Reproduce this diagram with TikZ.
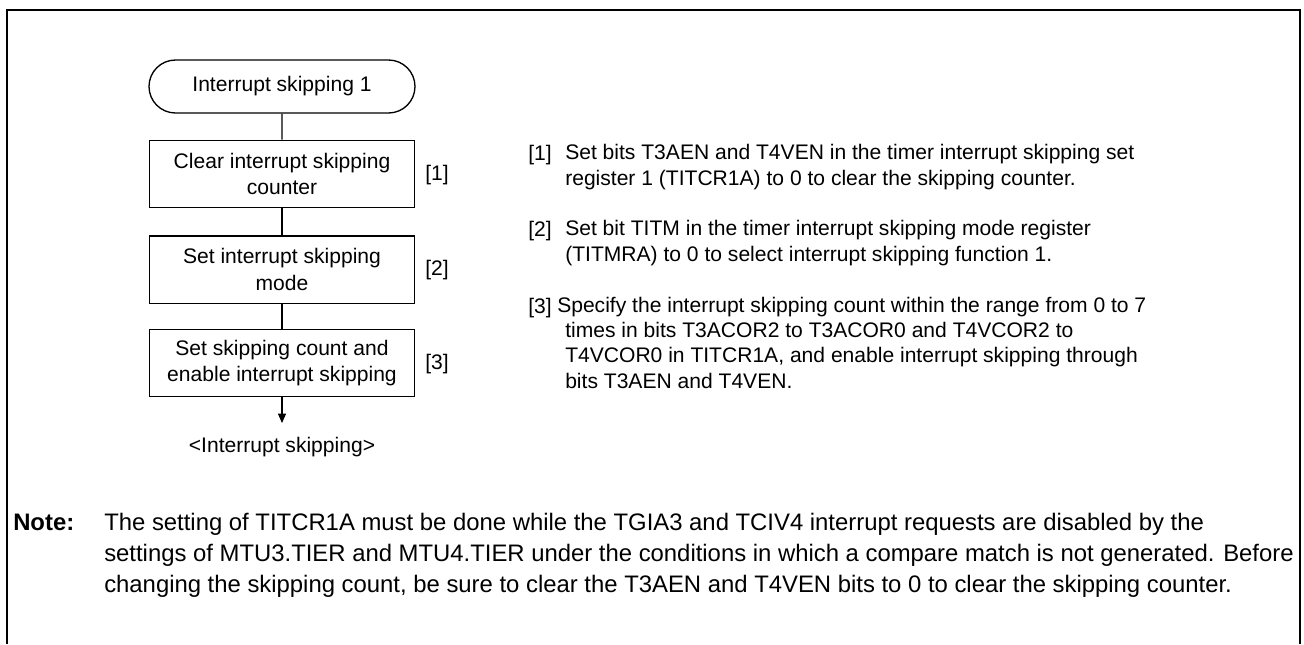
\documentclass[tikz,border=0pt]{standalone}
\usepackage{fontspec}
\setmainfont{Liberation Sans}
\usetikzlibrary{positioning, arrows.meta, shapes.misc}

\begin{document}
\begin{tikzpicture}[
  x=0.75pt, y=-0.75pt,
  every node/.style={font=\fontsize{15.8}{20}\selectfont, inner sep=0pt},
  term/.style={draw, line width=1pt, rounded rectangle, minimum width=199.5pt, minimum height=39.75pt},
  procbox/.style={draw, line width=1pt, minimum width=198.75pt, minimum height=50.5pt, align=center},
  steplabel/.style={anchor=base west},
  desc/.style={anchor=base west, align=left, font=\fontsize{15.8}{18.8}\selectfont},
  notetext/.style={anchor=base west, align=left, font=\fontsize{17.9}{23.25}\selectfont},
  flow/.style={line width=0.8pt},
  arrow/.style={-{Triangle[length=7pt,width=6pt]}, line width=0.8pt},
]
\useasboundingbox (0,0) rectangle (1304,644);

% Frame (open at the bottom)
\draw[line width=1.6pt] (7,644) -- (7,10) -- (1300,10) -- (1300,644);

% --- Flowchart ---
\node[term] (start) at (282, 86.5) {Interrupt skipping 1};
\node[procbox] (clr) at (282, 174) {Clear interrupt skipping\\counter};
\node[procbox] (mode) at (282, 269.5) {Set interrupt skipping\\mode};
\node[procbox] (cnt) at (282, 363) {Set skipping count and\\enable interrupt skipping};
\coordinate (end) at (282, 423);
\node (done) at (282, 447) {<Interrupt skipping>};

\node (n1) at (437, 175) {[1]};
\node (n2) at (437, 270) {[2]};
\node (n3) at (437, 364) {[3]};

\draw[flow] (start) -- (clr);
\draw[flow] (clr) -- (mode);
\draw[flow] (mode) -- (cnt);
\draw[arrow] (cnt) -- (end);

% --- Step descriptions (base = last line) ---
\node[steplabel] (d1n) at (528, 160) {[1]};
\node[desc] (d1) at (565, 185) {Set bits T3AEN and T4VEN in the timer interrupt skipping set\\register 1 (TITCR1A) to 0 to clear the skipping counter.};

\node[steplabel] (d2n) at (528, 236) {[2]};
\node[desc] (d2) at (565, 261) {Set bit TITM in the timer interrupt skipping mode register\\(TITMRA) to 0 to select interrupt skipping function 1.};

\node[steplabel] (d3n) at (528, 313) {[3]};
\node[desc] (d3) at (557, 388) {Specify the interrupt skipping count within the range from 0 to 7\\\hspace*{6pt}times in bits T3ACOR2 to T3ACOR0 and T4VCOR2 to\\\hspace*{6pt}T4VCOR0 in TITCR1A, and enable interrupt skipping through\\\hspace*{6pt}bits T3AEN and T4VEN.};

% --- Note ---
\node[steplabel, font=\fontsize{17.9}{23.25}\selectfont\bfseries] (noteh) at (13, 530) {Note:};
\node[notetext] (note) at (104, 592) {The setting of TITCR1A must be done while the TGIA3 and TCIV4 interrupt requests are disabled by the\\settings of MTU3.TIER and MTU4.TIER under the conditions in which a compare match is not generated. Before\\changing the skipping count, be sure to clear the T3AEN and T4VEN bits to 0 to clear the skipping counter.};
\end{tikzpicture}
\end{document}
